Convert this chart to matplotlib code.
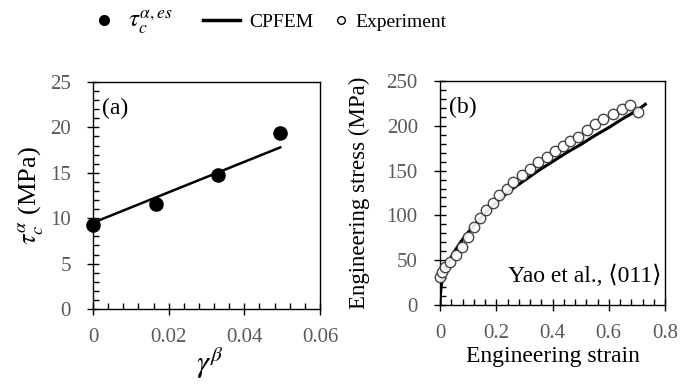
import matplotlib
matplotlib.use("Agg")
import matplotlib.pyplot as plt
from matplotlib.ticker import MultipleLocator
from matplotlib.lines import Line2D

plt.rcParams['font.family'] = ['Liberation Serif', 'DejaVu Serif']
plt.rcParams['mathtext.fontset'] = 'stix'

# (a) data
gamma_pts = [0.0, 0.0167, 0.033, 0.0495]
tau_pts = [9.3, 11.6, 14.8, 19.4]
gamma_fit = [0.0, 0.0495]
tau_fit = [9.5, 17.8]

# (b) data
exp_strain = [0.0, 0.006, 0.018, 0.036, 0.057, 0.077, 0.098, 0.121, 0.142, 0.164,
              0.19, 0.211, 0.237, 0.261, 0.29, 0.32, 0.35, 0.379, 0.409, 0.436,
              0.462, 0.492, 0.521, 0.551, 0.581, 0.614, 0.646, 0.676, 0.705]
exp_stress = [30.8, 36.4, 42.7, 48.3, 55.7, 64.3, 76, 87, 96.6, 106,
              114, 122.6, 130, 137.4, 145, 152, 160, 165, 172, 177,
              183, 188, 195, 202, 208, 213.6, 219, 223, 215]
fem_strain = [0.0, 0.002, 0.005, 0.01, 0.02, 0.03, 0.05, 0.075, 0.1, 0.15, 0.2,
              0.25, 0.3, 0.35, 0.4, 0.45, 0.5, 0.55, 0.6, 0.65, 0.7, 0.73]
fem_stress = [0, 13, 23, 31, 41, 48, 59, 71, 81, 99, 115,
              128, 139, 150, 160, 170, 179, 189, 198, 208, 217, 224]

W, H = 681, 385
fig = plt.figure(figsize=(W/100, H/100), dpi=100)

def box(l, r, t, b):
    return [l/W, 1 - b/H, (r-l)/W, (b-t)/H]

ax1 = fig.add_axes(box(93, 320, 82, 309))
ax2 = fig.add_axes(box(440, 665, 81, 305))

gray = '#595959'
for ax in (ax1, ax2):
    for s in ax.spines.values():
        s.set_color('black')
        s.set_linewidth(1.0)
    ax.tick_params(which='major', direction='inout', length=8, width=1,
                   labelsize=15, labelcolor=gray, color='black')
    ax.tick_params(axis='y', which='major', pad=12)
    ax.tick_params(axis='x', which='major', pad=10)
    ax.tick_params(which='minor', direction='in', length=4, width=1, color='black')
    ax.tick_params(top=False, right=False, which='both')

ax1.plot(gamma_fit, tau_fit, color='black', lw=1.8)
ax1.plot(gamma_pts, tau_pts, 'o', color='black', ms=9.5, clip_on=False, zorder=5)
ax1.set_xlim(0, 0.06)
ax1.set_ylim(0, 25)
ax1.set_xticks([0, 0.02, 0.04, 0.06])
ax1.set_xticklabels(['0', '0.02', '0.04', '0.06'])
ax1.xaxis.set_minor_locator(MultipleLocator(0.004))
ax1.yaxis.set_major_locator(MultipleLocator(5))
ax1.yaxis.set_minor_locator(MultipleLocator(1))
ax1.set_xlabel(r'$\gamma^{\beta}$', fontsize=22)
ax1.xaxis.set_label_coords(0.515, -0.235)
ax1.xaxis.label.set_va('center')
ax1.set_ylabel(r'$\tau_c^{\alpha}$ (MPa)', fontsize=19)
ax1.yaxis.set_label_coords(-0.27, 0.5)
ax1.yaxis.label.set_va('center')
ax1.text(0.04, 0.93, '(a)', transform=ax1.transAxes, fontsize=17, va='top', ha='left')

ax2.plot(fem_strain, fem_stress, color='black', lw=2.2)
ax2.plot(exp_strain, exp_stress, 'o', mfc='white', mec='#333333', mew=1.0, ms=7.5,
         clip_on=False, zorder=5, alpha=0.9)
ax2.set_xlim(0, 0.8)
ax2.set_ylim(0, 250)
ax2.set_xticks([0, 0.2, 0.4, 0.6, 0.8])
ax2.set_xticklabels(['0', '0.2', '0.4', '0.6', '0.8'])
ax2.xaxis.set_minor_locator(MultipleLocator(0.04))
ax2.yaxis.set_major_locator(MultipleLocator(50))
ax2.yaxis.set_minor_locator(MultipleLocator(10))
ax2.set_xlabel('Engineering strain', fontsize=17)
ax2.xaxis.set_label_coords(0.5, -0.228)
ax2.xaxis.label.set_va('center')
ax2.set_ylabel('Engineering stress (MPa)', fontsize=16.5)
ax2.yaxis.set_label_coords(-0.36, 0.5)
ax2.yaxis.label.set_va('center')
ax2.text(0.04, 0.93, '(b)', transform=ax2.transAxes, fontsize=17, va='top', ha='left')
ax2.text(0.985, 0.13, 'Yao et al., ⟨011⟩', transform=ax2.transAxes, fontsize=17,
         va='center', ha='right')

entries = [
    (Line2D([], [], ls='none', marker='o', color='black', ms=7), r'$\tau_c^{\alpha,es}$',
     94.3, 1.0, 0.73, 18),
    (Line2D([], [], color='black', lw=2.5), 'CPFEM', 203, 1.9, 0.5, 14),
    (Line2D([], [], ls='none', marker='o', mfc='white', mec='black', mew=1.0, ms=5.5),
     'Experiment', 331.3, 1.0, 0.22, 14),
]
for h, lab, x0, hl, tp, fs in entries:
    leg = fig.legend([h], [lab], loc='center left', bbox_to_anchor=(x0/W, 1 - 22/H),
                     frameon=False, fontsize=14, handlelength=hl, handletextpad=tp,
                     borderpad=0, borderaxespad=0)
    leg.get_texts()[0].set_fontsize(fs)

fig.savefig('out.png', dpi=100)
